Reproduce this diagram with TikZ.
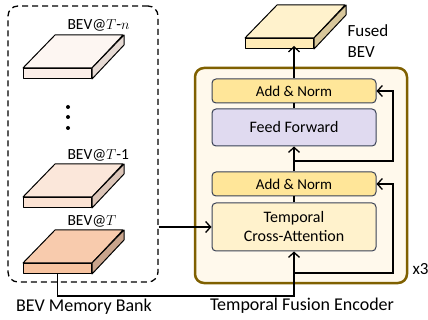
\documentclass[tikz,border=0pt]{standalone}
\usepackage{fontspec}
\setmainfont{Carlito}
\usetikzlibrary{arrows.meta}

\definecolor{boxline}{HTML}{3A4256}
\definecolor{encline}{HTML}{7F6000}
\definecolor{encfill}{HTML}{FFF9EC}
\definecolor{addfill}{HTML}{FFE699}
\definecolor{fffill}{HTML}{E0DAF0}
\definecolor{tcafill}{HTML}{FFF2CC}
% plate faces: front, top, side
\definecolor{tnfront}{HTML}{FBEEE8}
\definecolor{tntop}{HTML}{FDF6F2}
\definecolor{tnside}{HTML}{E6DAD4}
\definecolor{tafront}{HTML}{FBE2D3}
\definecolor{tatop}{HTML}{FBE7DA}
\definecolor{taside}{HTML}{DCC5B8}
\definecolor{tfront}{HTML}{F7C3A0}
\definecolor{ttop}{HTML}{F8CBAD}
\definecolor{tside}{HTML}{C9A48C}
\definecolor{fufront}{HTML}{FFEBB7}
\definecolor{futop}{HTML}{FFF2CC}
\definecolor{fuside}{HTML}{D8C79B}

\tikzset{
    block/.style={draw=boxline, line width=1pt, rounded corners=4pt, minimum width=164pt,
        align=center, font=\fontsize{16}{19}\selectfont},
    face/.style={draw=black, line width=1pt, line join=round},
    link/.style={line width=1.3pt, -{Straight Barb[length=5pt,width=11pt]}},
    caption/.style={font=\fontsize{18}{21}\selectfont},
    bevlabel/.style={anchor=west, font=\fontsize{15.5}{18}\selectfont},
}

% one BEV plate: front face is the node, top and side are drawn behind it
% #1 name, #2 front north west, #3 front, #4 top, #5 side
\newcommand{\bevslab}[5]{
    \node[face, fill=#3, anchor=north west, inner sep=0pt,
        minimum width=68pt, minimum height=10pt] (#1) at #2 {};
    \draw[face, fill=#4] (#1.north west) -- ++(32,-33) -- ++(68,0) -- (#1.north east) -- cycle;
    \draw[face, fill=#5] (#1.north east) -- ++(32,-33) -- ++(0,10) -- (#1.south east) -- cycle;
}

\begin{document}
\begin{tikzpicture}[x=1pt,y=-1pt]
    \useasboundingbox (0,0) rectangle (428,320);

    % memory bank
    \node[draw, dashed, dash pattern=on 6pt off 4pt, line width=1.3pt, rounded corners=10pt,
        minimum width=150pt, minimum height=276pt] (bank) at (83,144) {};
    \bevslab{bevTn}{(23,68)}{tnfront}{tntop}{tnside}
    \bevslab{bevTa}{(23,197)}{tafront}{tatop}{taside}
    \bevslab{bevT}{(23,263)}{tfront}{ttop}{tside}
    \node[bevlabel] (lblTn) at (64,25) {BEV@$T$-$n$};
    \node[bevlabel] (lblTa) at (64,155) {BEV@$T$-1};
    \node[bevlabel] (lblT) at (64,221) {BEV@$T$};
    \foreach \y in {107,117,128}
        \fill (68,\y) circle (2pt);

    % encoder
    \node[draw=encline, fill=encfill, line width=2.5pt, rounded corners=9pt,
        minimum width=212pt, minimum height=215pt] (enc) at (301,175.5) {};
    \node[block, fill=addfill, minimum height=24pt, font=\fontsize{15}{18}\selectfont] (an1) at (294,91) {Add \& Norm};
    \node[block, fill=fffill, minimum height=37pt] (ff) at (294,127.5) {Feed Forward};
    \node[block, fill=addfill, minimum height=24pt, font=\fontsize{15}{18}\selectfont] (an2) at (294,184) {Add \& Norm};
    \node[block, fill=tcafill, minimum height=48pt] (tca) at (294,227) {Temporal\\Cross-Attention};

    % fused output
    \bevslab{fused}{(245,38)}{fufront}{futop}{fuside}
    \node[anchor=west, align=left, font=\fontsize{17}{21}\selectfont] (fusedlbl) at (344,41) {Fused\\BEV};

    % connections
    \coordinate (r1) at (294,161);
    \coordinate (r2) at (294,273);
    \draw[link] (an1.north) -- ([yshift=3pt]an1.north |- fused.south);
    \draw[line width=1.3pt] (ff.north) -- (an1.south);
    \draw[link] (an2.north) -- (ff.south);
    \draw[line width=1.3pt] (tca.north) -- (an2.south);
    \draw[link] (r1) -- ++(99,0) |- (an1.east);
    \draw[link] (r2) -- ++(99,0) |- (an2.east);
    \draw[link] (bevT.south) -- ++(0,22) -| (tca.south);
    \draw[link] (bank.east |- tca.west) -- (tca.west);

    % captions
    \node[caption] (banklbl) at (84,307) {BEV Memory Bank};
    \node[caption] (enclbl) at (302,306) {Temporal Fusion Encoder};
    \node[anchor=west, font=\fontsize{17}{20}\selectfont] (rep) at (409,269) {x3};
\end{tikzpicture}
\end{document}
